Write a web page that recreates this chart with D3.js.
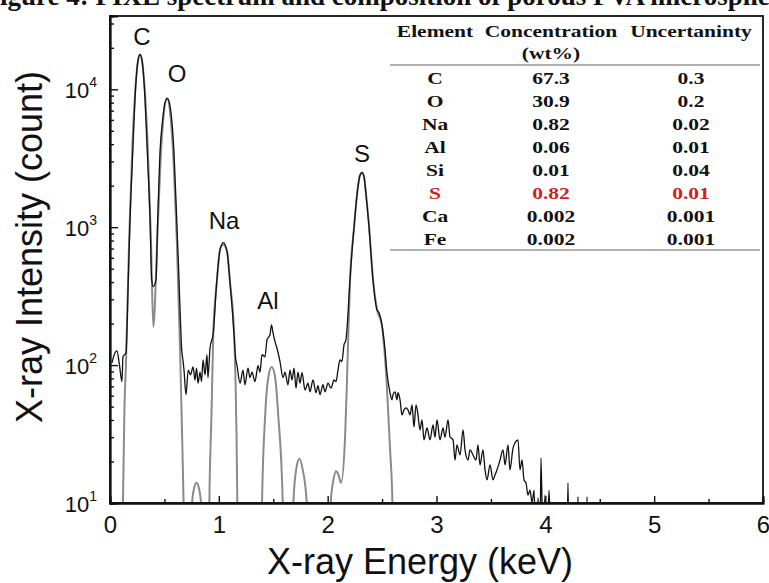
<!DOCTYPE html>
<html>
<head>
<meta charset="utf-8">
<script src="https://cdn.jsdelivr.net/npm/d3@7"></script>
<style>
  body { margin: 0; background: #fff; }
  svg { display: block; }
</style>
</head>
<body>
<div id="chart"></div>
<script>
// measured PIXE spectrum [energy keV, counts]
const measured = [
  [0.018,104],[0.046,123],[0.064,127],[0.087,100],[0.11,76],[0.119,115],[0.147,123],
  [0.168,416],[0.184,1135],[0.209,3480],[0.236,10500],[0.256,16000],[0.276,17900],[0.296,16000],
  [0.315,10500],[0.343,3480],[0.368,1135],[0.383,416],[0.398,371],[0.423,416],[0.438,1135],
  [0.459,3480],[0.484,6040],[0.505,8000],[0.527,8590],[0.547,7900],[0.567,6040],[0.588,3480],
  [0.613,1135],[0.634,416],[0.659,129],[0.672,106],[0.68,92],[0.698,61],[0.719,92],[0.74,85],
  [0.763,97],[0.781,78],[0.795,95],[0.809,74],[0.827,89],[0.841,76],[0.855,109],[0.873,85],
  [0.891,119],[0.9,81],[0.919,133],[0.949,171],[0.98,396],[1.011,687],[1.041,773],[1.075,670],
  [1.103,396],[1.139,171],[1.153,115],[1.167,99],[1.195,74],[1.222,92],[1.24,72],[1.268,95],
  [1.286,81],[1.305,89],[1.332,76],[1.36,99],[1.378,89],[1.397,119],[1.424,115],[1.443,153],
  [1.47,166],[1.484,196],[1.498,171],[1.516,148],[1.534,133],[1.562,106],[1.59,81],[1.608,89],
  [1.635,72],[1.654,92],[1.672,78],[1.691,95],[1.709,68],[1.727,89],[1.746,74],[1.764,88],
  [1.792,66],[1.819,74],[1.838,64],[1.865,78],[1.893,63],[1.911,71],[1.93,61],[1.957,72],
  [1.976,64],[2.003,74],[2.031,68],[2.058,78],[2.077,76],[2.095,92],[2.113,109],[2.131,106],
  [2.15,140],[2.168,153],[2.177,180],[2.205,416],[2.242,1000],[2.27,1726],[2.295,2350],
  [2.316,2490],[2.335,2300],[2.352,1726],[2.38,1000],[2.416,416],[2.453,252],[2.472,240],
  [2.499,196],[2.527,129],[2.545,88],[2.573,63],[2.591,56],[2.6,61],[2.619,64],[2.637,56],
  [2.646,63],[2.665,56],[2.683,43.5],[2.701,47.3],[2.72,49],[2.738,47.3],[2.757,43.5],
  [2.775,51.5],[2.793,35.6],[2.812,51.5],[2.83,43.5],[2.848,33.9],[2.867,40],[2.885,28.7],
  [2.913,35],[2.94,28.7],[2.968,36.8],[2.986,30],[3.005,40],[3.032,28.7],[3.06,35],[3.078,30],
  [3.106,40],[3.124,30.2],[3.152,28.7],[3.17,20.5],[3.188,26.4],[3.216,22.3],[3.244,33.9],
  [3.262,24.3],[3.29,20.5],[3.308,24.3],[3.335,22.3],[3.363,20.5],[3.381,26.4],[3.4,18.9],
  [3.427,24.3],[3.446,17.4],[3.464,14.7],[3.492,18.9],[3.519,14.7],[3.538,16],[3.556,17.4],
  [3.584,20.5],[3.611,24.3],[3.63,18.9],[3.657,26.4],[3.675,17.4],[3.703,25],[3.721,27.3],
  [3.749,28.7],[3.767,17.4],[3.786,20.5],[3.804,14.7],[3.822,14],[3.841,11.4],[3.859,12.4],
  [3.878,10],[3.896,12.4],[3.914,5],[3.933,10.9],[3.951,5],[3.96,21.2],[3.978,5],[3.997,11.4],
  [4.015,5],[4.034,12.4],[4.052,5],[4.2,5],[4.208,14],[4.216,5],[4.295,5],[4.3,11.1],
  [4.305,5],[4.378,5],[4.383,11.1],[4.388,5]
];

// fitted peaks [energy keV, counts]
const fitted = [
  [0.11,2],[0.119,10],[0.133,50],[0.146,98],[0.176,824],[0.206,3960],[0.236,10900],[0.256,15700],
  [0.276,17900],[0.296,15700],[0.316,10900],[0.346,3960],[0.376,824],[0.398,190],[0.434,804],
  [0.464,3000],[0.494,6610],[0.524,8590],[0.554,6610],[0.584,3000],[0.614,804],[0.644,127],
  [0.664,27.9],[0.676,10],[0.69,2],
  [0.745,2],[0.754,10],[0.775,13],[0.795,14],[0.815,13],[0.836,10],[0.845,2],
  [0.905,2],[0.913,10],[0.928,33],[0.938,68],[0.949,171],[0.981,396],[1.011,687],[1.041,750],
  [1.075,670],[1.103,396],[1.14,171],[1.153,78],[1.163,30],[1.17,10],[1.178,2],
  [1.39,2],[1.397,10],[1.425,42],[1.455,82],[1.486,97],[1.517,82],[1.547,42],[1.587,10],[1.595,2],
  [1.678,2],[1.685,10],[1.71,17.4],[1.74,20.9],[1.771,17.4],[1.808,10],[1.815,2],
  [2.02,2],[2.028,10],[2.053,14.7],[2.077,17],[2.099,16],[2.123,14],[2.16,30.2],[2.175,66],
  [2.19,171],[2.206,416],[2.243,1000],[2.27,1726],[2.295,2350],[2.316,2490],[2.335,2300],
  [2.353,1726],[2.381,1000],[2.417,416],[2.454,252],[2.497,196],[2.543,73],[2.574,24],
  [2.595,10],[2.605,2]
];

const peakNames = ["C", "O", "Na", "Al", "S"];
const peakEnergy = [0.294, 0.616, 1.048, 1.452, 2.316];
const peakLabelCount = [20900, 11300, 970, 255, 2970];

const xTicks = [0, 1, 2, 3, 4, 5, 6];
const yTicks = [10, 100, 1000, 10000];

const tableHeader = ["Element", "Concentration", "Uncertaninty"];
const elements = ["C", "O", "Na", "Al", "Si", "S", "Ca", "Fe"];
const concentration = ["67.3", "30.9", "0.82", "0.06", "0.01", "0.82", "0.002", "0.002"];
const uncertainty = ["0.3", "0.2", "0.02", "0.01", "0.04", "0.01", "0.001", "0.001"];
const highlight = "S";

const W = 769, H = 583;
const margin = {top: 16, right: 6, bottom: 80, left: 110};
const width = W - margin.left - margin.right;
const height = 503 - margin.top;

const svg = d3.select("#chart").append("svg")
  .attr("width", W)
  .attr("height", H);

const serif = "'Liberation Serif', 'Times New Roman', serif";
const sans = "'Liberation Sans', Arial, sans-serif";

// caption, cut off at the very top as in the source
const title = svg.append("text")
  .attr("y", 5)
  .style("font-family", serif)
  .style("font-weight", "bold")
  .style("font-size", "27px")
  .style("fill", "#111")
  .text("Figure 4: PIXE spectrum and composition of porous PVA microspheres");
const fW = svg.append("text").style("font-family", serif)
  .style("font-weight", "bold").style("font-size", "27px").text("F");
title.attr("x", -fW.node().getComputedTextLength());
fW.remove();

const g = svg.append("g").attr("transform", `translate(${margin.left},${margin.top})`);

const x = d3.scaleLinear().domain([0, 6]).range([0, width]);
const y = d3.scaleLog().domain([10, 34000]).range([height, 0]);

g.append("clipPath").attr("id", "clip")
  .append("rect").attr("width", width).attr("height", height);

// composition table, upper right
const tbl = g.append("g").attr("transform", `translate(${390 - margin.left},0)`);
const colX = [45, 161, 301];
function cell(txt, cx, cy, color) {
  tbl.append("text")
    .attr("transform", `translate(${cx},${cy}) scale(1,0.76)`)
    .attr("text-anchor", "middle")
    .style("font-family", serif)
    .style("font-weight", "bold")
    .style("font-size", "21.5px")
    .style("fill", color || "#111")
    .text(txt);
}
tableHeader.forEach((h, i) => cell(h, colX[i], 21));
cell("(wt%)", colX[1], 43);
tbl.append("line").attr("x1", 0).attr("x2", 370).attr("y1", 49).attr("y2", 49)
  .attr("stroke", "#999").attr("stroke-width", 1.5);
elements.forEach((el, i) => {
  const c = el === highlight ? "#d42020" : "#111";
  const cy = 67.5 + i * 23.1;
  cell(el, colX[0], cy, c);
  cell(concentration[i], colX[1], cy, c);
  cell(uncertainty[i], colX[2], cy, c);
});
tbl.append("line").attr("x1", 0).attr("x2", 370).attr("y1", 234).attr("y2", 234)
  .attr("stroke", "#999").attr("stroke-width", 1.5);

// curves
const line = d3.line()
  .x(d => x(d[0]))
  .y(d => y(d[1]))
  .curve(d3.curveMonotoneX);

const curves = g.append("g").attr("clip-path", "url(#clip)");
curves.append("path")
  .datum(fitted)
  .attr("fill", "none")
  .attr("stroke", "#8a8a8a")
  .attr("stroke-width", 2)
  .attr("d", line);
curves.append("path")
  .datum(measured)
  .attr("fill", "none")
  .attr("stroke", "#111")
  .attr("stroke-width", 1.3)
  .attr("d", line);

// axes with inward ticks
const xAxis = g.append("g")
  .attr("transform", `translate(0,${height})`)
  .call(d3.axisBottom(x).tickValues(xTicks).tickSize(-7).tickPadding(13).tickFormat(d3.format("d")));
g.append("g")
  .attr("transform", `translate(0,${height})`)
  .call(d3.axisBottom(x).tickValues(d3.range(0.5, 6, 1)).tickSize(-4).tickFormat(""));
xAxis.selectAll("text").style("font-family", sans).style("font-size", "24px").style("fill", "#111");

const minors = [];
[10, 100, 1000, 10000].forEach(dec => {
  for (let k = 2; k <= 9; k++) if (dec * k <= 34000) minors.push(dec * k);
});
g.append("g").call(d3.axisLeft(y).tickValues(yTicks).tickSize(-8).tickFormat(""));
g.append("g").call(d3.axisLeft(y).tickValues(minors).tickSize(-4).tickFormat(""));

g.selectAll(".domain").attr("stroke", "#111").attr("stroke-width", 1.8);
g.selectAll(".tick line").attr("stroke", "#111").attr("stroke-width", 1.4);

// frame
g.append("rect")
  .attr("width", width).attr("height", height)
  .attr("fill", "none").attr("stroke", "#111").attr("stroke-width", 1.8);

// y tick labels as 10^n
yTicks.forEach(v => {
  const t = g.append("text")
    .attr("x", -13)
    .attr("y", y(v) + 9)
    .attr("text-anchor", "end")
    .style("font-family", sans)
    .style("font-size", "22px")
    .style("fill", "#111");
  t.append("tspan").text("10");
  t.append("tspan").attr("dy", -11).style("font-size", "14px").text(Math.round(Math.log10(v)));
});

// peak labels
peakNames.forEach((n, i) => {
  g.append("text")
    .attr("x", x(peakEnergy[i]))
    .attr("y", y(peakLabelCount[i]))
    .attr("text-anchor", "middle")
    .style("font-family", sans)
    .style("font-size", "24px")
    .style("fill", "#111")
    .text(n);
});

// axis titles
svg.append("text")
  .attr("x", 420).attr("y", 574)
  .attr("text-anchor", "middle")
  .style("font-family", sans)
  .style("font-size", "36px")
  .style("fill", "#111")
  .text("X-ray Energy (keV)");
svg.append("text")
  .attr("transform", "translate(42,247) rotate(-90)")
  .attr("text-anchor", "middle")
  .style("font-family", sans)
  .style("font-size", "36px")
  .style("fill", "#111")
  .text("X-ray Intensity (count)");
</script>
</body>
</html>
